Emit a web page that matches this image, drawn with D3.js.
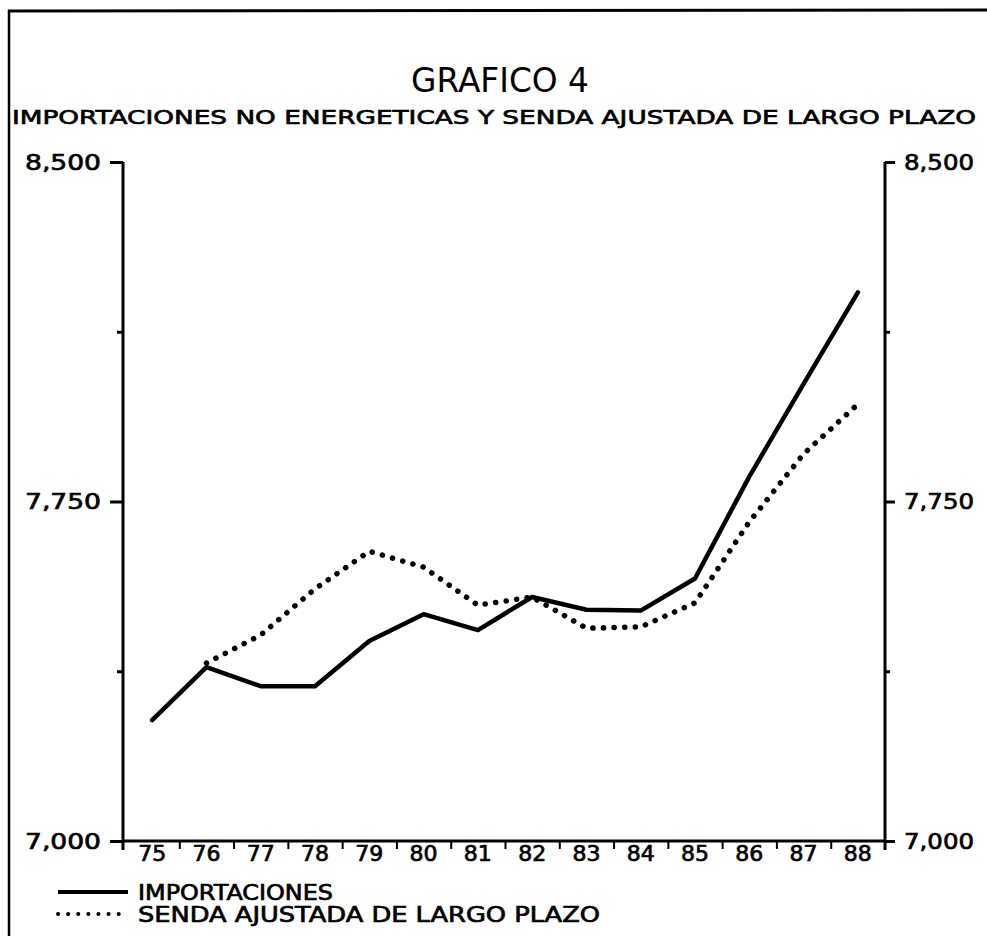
<!DOCTYPE html>
<html>
<head>
<meta charset="utf-8">
<script src="https://cdn.jsdelivr.net/npm/d3@7"></script>
<style>
  html, body { margin: 0; padding: 0; background: #fff; }
  svg { display: block; }
  text { fill: #000; }
</style>
</head>
<body>
<svg id="chart" width="987" height="936"></svg>
<script>
// ---- data ----
const years = ["75","76","77","78","79","80","81","82","83","84","85","86","87","88"];
const importaciones = [7267, 7384, 7342, 7342, 7442, 7501, 7466, 7539, 7511, 7509, 7580, 7805, 8010, 8212];
const senda = [null, 7393, 7455, 7557, 7640, 7605, 7521, 7539, 7470, 7473, 7526, 7705, 7855, 7965];
const majorTicks = [7000, 7750, 8500];
const minorTicks = [7375, 8125];
const titleText = "GRAFICO 4";
const subtitleText = "IMPORTACIONES NO ENERGETICAS Y SENDA AJUSTADA DE LARGO PLAZO";
const legendLabels = ["IMPORTACIONES", "SENDA AJUSTADA DE LARGO PLAZO"];

(function () {
// ---- layout ----
const svg = d3.select("#chart");
const pL = 123, pR = 885, pT = 162, pB = 841;
const font = "'DejaVu Sans', sans-serif";
const thick = sel => sel.attr("stroke", "#000").attr("stroke-width", 0.7).attr("paint-order", "stroke");

const x = d3.scaleBand().domain(years).range([pL + 2, pR]).padding(0);
const xb = d3.scaleLinear().domain([0, years.length]).range([pL + 2, pR]);
const y = d3.scaleLinear().domain([7000, 8500]).range([pB, pT]);
const cx = d => x(d) + x.bandwidth() / 2;

// frame
svg.append("line").attr("x1", 8).attr("x2", 987).attr("y1", 11).attr("y2", 10)
  .attr("stroke", "#000").attr("stroke-width", 3);
svg.append("line").attr("x1", 9).attr("x2", 9).attr("y1", 10).attr("y2", 936)
  .attr("stroke", "#000").attr("stroke-width", 2.5);

// titles
svg.append("text").attr("x", 500).attr("y", 92).attr("text-anchor", "middle")
  .attr("font-family", font).attr("font-size", 33).attr("textLength", 178)
  .attr("lengthAdjust", "spacingAndGlyphs").text(titleText);
svg.append("text").attr("x", 12).attr("y", 124)
  .attr("font-family", font).attr("font-size", 20)
  .attr("textLength", 964).attr("lengthAdjust", "spacingAndGlyphs").text(subtitleText)
  .call(thick);

function styleAxis(g) {
  g.select(".domain").remove();
  g.selectAll(".tick line").attr("stroke", "#000").attr("stroke-width", 3);
  g.selectAll("text").attr("font-family", font).attr("fill", "#000").call(thick);
}

// left axis
const gL = svg.append("g").attr("transform", `translate(${pL},0)`)
  .call(d3.axisLeft(y).tickValues(majorTicks).tickSize(13).tickPadding(9).tickFormat(d3.format(",")));
styleAxis(gL);
gL.selectAll("text").attr("font-size", 22).attr("textLength", 76).attr("lengthAdjust", "spacingAndGlyphs");
const gLm = svg.append("g").attr("transform", `translate(${pL},0)`)
  .call(d3.axisLeft(y).tickValues(minorTicks).tickSize(6).tickFormat(""));
styleAxis(gLm);

// right axis
const gR = svg.append("g").attr("transform", `translate(${pR},0)`)
  .call(d3.axisRight(y).tickValues(majorTicks).tickSize(10).tickPadding(9).tickFormat(d3.format(",")));
styleAxis(gR);
gR.selectAll("text").attr("font-size", 22).attr("textLength", 70).attr("lengthAdjust", "spacingAndGlyphs");
const gRm = svg.append("g").attr("transform", `translate(${pR},0)`)
  .call(d3.axisRight(y).tickValues(minorTicks).tickSize(5).tickFormat(""));
styleAxis(gRm);

// axis lines
svg.append("line").attr("x1", pL).attr("x2", pL).attr("y1", pT).attr("y2", pB + 9)
  .attr("stroke", "#000").attr("stroke-width", 3);
svg.append("line").attr("x1", pR).attr("x2", pR).attr("y1", pT).attr("y2", pB + 9)
  .attr("stroke", "#000").attr("stroke-width", 3);
svg.append("line").attr("x1", pL).attr("x2", pR).attr("y1", pB).attr("y2", pB)
  .attr("stroke", "#000").attr("stroke-width", 3);

// bottom axis: boundary ticks + centred labels
const gB = svg.append("g").attr("transform", `translate(0,${pB})`)
  .call(d3.axisBottom(xb).tickValues(d3.range(1, years.length)).tickSize(8).tickFormat(""));
styleAxis(gB);
gB.selectAll(".tick line").attr("stroke-width", 2);
const gBl = svg.append("g").attr("transform", `translate(0,${pB})`)
  .call(d3.axisBottom(x).tickSize(0).tickPadding(4));
styleAxis(gBl);
gBl.selectAll("text").attr("font-size", 21).attr("dy", "0.75em").attr("textLength", 28).attr("lengthAdjust", "spacingAndGlyphs");

// lines
const line = d3.line()
  .defined(d => d.v != null)
  .x(d => cx(d.k)).y(d => y(d.v));
const impData = years.map((k, i) => ({k, v: importaciones[i]}));
const senData = years.map((k, i) => ({k, v: senda[i]}));

svg.append("path").datum(senData).attr("d", line)
  .attr("fill", "none").attr("stroke", "#000").attr("stroke-width", 5.5)
  .attr("stroke-linecap", "round").attr("stroke-dasharray", "0.1 10.5");
svg.append("path").datum(impData).attr("d", line)
  .attr("fill", "none").attr("stroke", "#000").attr("stroke-width", 4.5)
  .attr("stroke-linejoin", "round").attr("stroke-linecap", "round");

// legend
const legY = [892, 914];
svg.append("line").attr("x1", 58).attr("x2", 128).attr("y1", legY[0]).attr("y2", legY[0])
  .attr("stroke", "#000").attr("stroke-width", 4);
svg.append("line").attr("x1", 58).attr("x2", 128).attr("y1", legY[1]).attr("y2", legY[1])
  .attr("stroke", "#000").attr("stroke-width", 4).attr("stroke-linecap", "round")
  .attr("stroke-dasharray", "0.1 10");
svg.append("text").attr("x", 138).attr("y", legY[0] + 8)
  .attr("font-family", font).attr("font-size", 21)
  .attr("textLength", 195).attr("lengthAdjust", "spacingAndGlyphs").text(legendLabels[0]).call(thick);
svg.append("text").attr("x", 138).attr("y", legY[1] + 8)
  .attr("font-family", font).attr("font-size", 21)
  .attr("textLength", 462).attr("lengthAdjust", "spacingAndGlyphs").text(legendLabels[1]).call(thick);
})();
</script>
</body>
</html>
